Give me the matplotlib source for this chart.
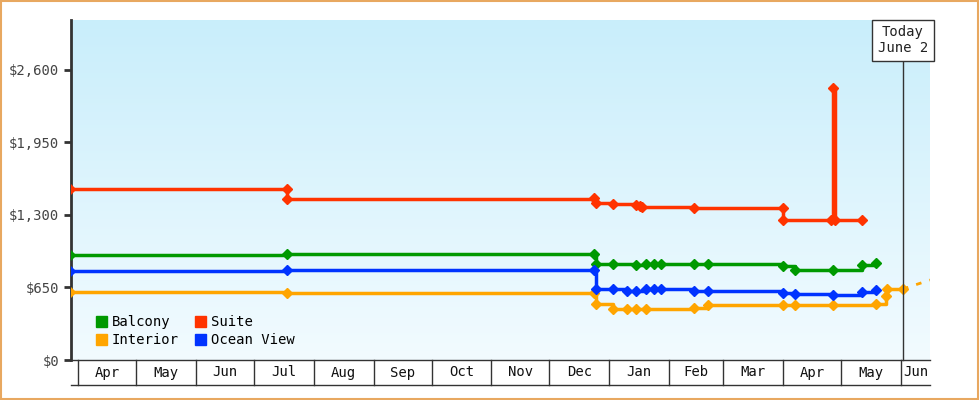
import matplotlib
matplotlib.use("Agg")
import matplotlib.pyplot as plt
import numpy as np
import pandas as pd
from matplotlib.patches import Patch, Rectangle
from matplotlib.colors import LinearSegmentedColormap

BASE = pd.Timestamp("2024-04-01")
def days(lst):
    return [(pd.Timestamp(d) - BASE).days for d in lst]

suite_dates = ["2024-03-28","2024-07-18","2024-07-18","2024-12-24","2024-12-25","2025-01-03","2025-01-15","2025-01-17","2025-01-18","2025-02-14","2025-04-01","2025-04-01","2025-04-26","2025-04-27","2025-04-28","2025-05-12"]
suite_vals  = [1533,1533,1443,1452,1408,1399,1390,1380,1372,1363,1363,1255,1255,2439,1255,1255]
balc_dates = ["2024-03-28","2024-07-18","2024-12-24","2024-12-25","2025-01-03","2025-01-15","2025-01-20","2025-01-24","2025-01-28","2025-02-14","2025-02-21","2025-04-01","2025-04-07","2025-04-27","2025-05-12","2025-05-19"]
balc_vals  = [941,950,950,861,861,852,861,861,861,861,861,843,807,807,852,870]
ocean_dates = ["2024-03-28","2024-07-18","2024-12-24","2024-12-25","2025-01-03","2025-01-10","2025-01-15","2025-01-20","2025-01-24","2025-01-28","2025-02-14","2025-02-21","2025-04-01","2025-04-07","2025-04-27","2025-05-12","2025-05-19"]
ocean_vals  = [798,807,807,637,637,619,619,637,637,637,619,619,601,592,583,610,628]
int_dates = ["2024-03-28","2024-07-18","2024-12-24","2024-12-25","2025-01-03","2025-01-10","2025-01-15","2025-01-20","2025-02-14","2025-02-21","2025-04-01","2025-04-07","2025-04-27","2025-05-19","2025-05-24","2025-05-25","2025-06-02"]
int_vals  = [610,601,601,502,457,457,457,457,466,493,493,493,493,502,574,637,637]
proj_dates = ["2025-06-02","2025-06-16"]
proj_vals = [637,717]

months = ["Apr","May","Jun","Jul","Aug","Sep","Oct","Nov","Dec","Jan","Feb","Mar","Apr","May","Jun"]
month_starts = ["2024-04-01","2024-05-01","2024-06-01","2024-07-01","2024-08-01","2024-09-01","2024-10-01","2024-11-01","2024-12-01","2025-01-01","2025-02-01","2025-03-01","2025-04-01","2025-05-01","2025-06-01"]
yticks = [0,650,1300,1950,2600]
today = "2025-06-02"

FONT = "DejaVu Sans Mono"
fig = plt.figure(figsize=(9.8,4), dpi=100)
fig.patch.set_facecolor("white")
fig.patches.append(Rectangle((0.001,0.002),0.997,0.995,transform=fig.transFigure,fill=False,edgecolor="#e8a860",lw=1.5))
ax = fig.add_axes([71/980, 40/400, 859/980, 340/400])
xmin, xmax = -3.6, 441
ymax = 3048
ax.set_xlim(xmin, xmax); ax.set_ylim(0, ymax)
cm = LinearSegmentedColormap.from_list("g", ["#f2fbff","#c9eefb"])
ax.imshow(np.linspace(1,0,256).reshape(-1,1), cmap=cm, aspect="auto", extent=[xmin,xmax,0,ymax], origin="upper", zorder=0)

series = [(balc_dates,balc_vals,"#009900"),(int_dates,int_vals,"#ffa500"),(suite_dates,suite_vals,"#ff3300"),(ocean_dates,ocean_vals,"#0033ff")]
for d,v,c in series:
    x = days(d)
    ax.plot(x, v, drawstyle="steps-post", color=c, lw=2.5, zorder=3)
    ax.plot(x, v, ls="none", marker="D", ms=5.5, color=c, zorder=4)
ax.plot(days(proj_dates), proj_vals, color="#ffa500", lw=2, ls=(0,(2,3)), zorder=3)

td = days([today])[0]
ax.plot([td,td],[0,ymax*0.95],color="#333333",lw=1,zorder=5,clip_on=False)
ax.text(td, ymax*0.94, "Today\nJune 2", ha="center", va="center", fontsize=10, family=FONT, color="#222222",
        bbox=dict(boxstyle="square,pad=0.4", fc="white", ec="#333333", lw=1), zorder=6, clip_on=False)

ax.set_yticks(yticks)
ax.set_yticklabels(["$0","$650","$1,300","$1,950","$2,600"], family=FONT, fontsize=10, color="#444444")
ax.tick_params(axis="y", direction="out", length=5, width=2, color="#333333")
ax.set_xticks([])
for s in ["top","right"]:
    ax.spines[s].set_visible(False)
ax.spines["left"].set_linewidth(2); ax.spines["left"].set_color("#333333")
ax.spines["bottom"].set_linewidth(1); ax.spines["bottom"].set_color("#333333")

ms = days(month_starts)
tr = ax.get_xaxis_transform()
ybot = -25/340
ax.plot([xmin,xmax],[ybot,ybot],transform=tr,color="#333333",lw=1,clip_on=False)
bounds = ms + [xmax]
for i,m in enumerate(months):
    ax.plot([bounds[i],bounds[i]],[0,ybot],transform=tr,color="#333333",lw=1,clip_on=False)
    ax.text((bounds[i]+bounds[i+1])/2, ybot/2, m, transform=tr, ha="center", va="center", family=FONT, fontsize=10, color="#111111")

handles = [Patch(color=c) for _,_,c in series]
labels = ["Balcony","Interior","Suite","Ocean View"]
ax.legend(handles, labels, ncol=2, loc="lower left", bbox_to_anchor=(0.015,0.0), frameon=False,
          prop={"family":FONT,"size":10}, handlelength=0.8, handleheight=0.8, columnspacing=1.2, labelspacing=0.3, handletextpad=0.3)
fig.savefig("out.png", dpi=100)
